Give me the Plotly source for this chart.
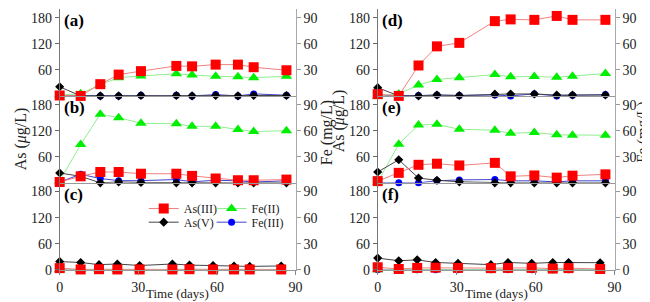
import plotly.graph_objects as go

# ---------------- data ----------------
days_ab = [0, 8, 15.5, 22.5, 31, 44.5, 50.5, 59.5, 68, 74, 86.5]
days_c = [0, 8, 15, 22, 30.5, 43, 49.5, 58.5, 66.5, 72.5, 84.5]

# panel (a)
as3_a = [1, 0, 27, 49, 57, 69, 68, 72, 72, 66, 59]
as5_a = [21, 0, 0, 0, 1, 1, 0, 1, 0, 1, 1]
fe2_a = [1, 2.5, 13, 21, 23, 25.5, 24, 22.5, 22, 21, 22.5]
fe3_a = [0.5, 0.5, 0, 0, 0.8, 0.8, 0, 1.5, 0, 2.3, 0.8]
# panel (b)
as3_b = [2, 15, 25, 25, 21, 21, 16, 10, 6, 6, 7.5]
as5_b = [22.7, 15, 0, 2, 1, 0, 0, 0, 0, 0, 0]
fe2_b = [2, 44, 79, 75, 68.5, 68, 65, 65, 61.5, 59, 60]
fe3_b = [1, 9.8, 5, 2.5, 2.5, 3.8, 1.2, 3, 2.3, 1, 2.3]
# panel (c)
as3_c = [4, 1, 1.5, 1, 1, 1, 1.5, 1, 1, 1, 1]
as5_c = [19, 17, 12, 13.5, 10, 13.5, 11, 10, 9, 8, 9]
fe2_c = [0, 0.3, 0.3, 0.3, 0.3, 0.3, 0.3, 0.3, 0.3, 0.3, 0.3]
fe3_c = [0, 0.2, 0.2, 0.2, 0.2, 0.2, 0.2, 0.2, 0.2, 0.2, 0.2]
# panel (d)
as3_d = [4, 0, 70, 114, 122, 172, 176, 175, 184, 175, 175]
as5_d = [19, 0, 0, 2, 1, 4, 4.5, 4.5, 2, 2, 2]
fe2_d = [0, 2.3, 12.5, 19, 21, 24.6, 22, 22.3, 21.5, 22.7, 25.7]
fe3_d = [0.5, 0.3, 0.4, 1.1, 0.4, 1.1, 0, 2.3, 0, 0.8, 1.5]
# panel (e)
as3_e = [4, 23, 41.5, 44, 40, 46, 15, 17, 12, 16.5, 19.5]
as5_e = [25, 53, 11, 6, 2.3, 0, 0, 0, 0, 0, 0]
fe2_e = [1, 44.5, 66.5, 67.3, 61.6, 60.5, 57, 58, 55.2, 54.8, 54.8]
fe3_e = [0, 0, 0, 2.3, 3.4, 3.8, 2.3, 2.3, 1.1, 2.3, 2.3]
# panel (f)
as3_f = [6, 2, 4.5, 5, 4.5, 4, 4.5, 4.5, 3, 4, 2]
as5_f = [27, 21, 23, 17, 15, 12, 17, 15, 17, 17, 16.5]
fe2_f = [0, 0.3, 0.3, 0.3, 0.3, 0.3, 0.3, 0.3, 0.3, 0.3, 0.3]
fe3_f = [0, 0.2, 0.2, 0.2, 0.2, 0.2, 0.2, 0.2, 0.2, 0.2, 0.2]

panel_labels = ["(a)", "(b)", "(c)", "(d)", "(e)", "(f)"]
as_ticks = [0, 60, 120, 180]
fe_ticks = [0, 30, 60, 90]
x_ticks = [0, 30, 60, 90]

panels = [
    (days_ab, as3_a, as5_a, fe2_a, fe3_a),
    (days_ab, as3_b, as5_b, fe2_b, fe3_b),
    (days_c, as3_c, as5_c, fe2_c, fe3_c),
    (days_ab, as3_d, as5_d, fe2_d, fe3_d),
    (days_ab, as3_e, as5_e, fe2_e, fe3_e),
    (days_c, as3_f, as5_f, fe2_f, fe3_f),
]

# ---------------- layout geometry ----------------
W, H = 650, 302
col_x = [(48.5, 288.5), (372, 613)]
row_y = [(1, 90.3), (90.3, 179.6), (179.6, 269)]  # pixel top/bottom

FONT = "Liberation Serif"
TICKFONT = dict(family=FONT, size=14, color="#222")
styles = {
    "as3": dict(name="As(III)", marker=dict(symbol="square", size=10, color="#ff0000"),
                line=dict(color="#f08080", width=1)),
    "fe2": dict(name="Fe(II)", marker=dict(symbol="triangle-up", size=10, color="#00ee00"),
                line=dict(color="#90ee90", width=1)),
    "as5": dict(name="As(V)", marker=dict(symbol="diamond", size=7, color="#000000"),
                line=dict(color="#444444", width=1)),
    "fe3": dict(name="Fe(III)", marker=dict(symbol="circle", size=7, color="#0000ff"),
                line=dict(color="#4444cc", width=1)),
}
# legend slot (pixel x of legend box, pixel y of row) for each series
legend_slots = {"as3": ("legend", 134, 206), "fe2": ("legend2", 203, 206),
                "as5": ("legend3", 134, 220), "fe3": ("legend4", 203, 220)}

fig = go.Figure()
layout = {}
annotations = []

for i, (days, as3, as5, fe2, fe3) in enumerate(panels):
    c, r = divmod(i, 3)
    xn = i + 1
    yfe = 2 * i + 1
    yas = 2 * i + 2
    x0, x1 = col_x[c]
    ytop, ybot = row_y[r]
    xdom = [x0 / W, x1 / W]
    ydom = [(H - ybot) / H, (H - ytop) / H]
    bottom = (r == 2)
    xk = "xaxis" if xn == 1 else f"xaxis{xn}"
    xa = "x" if xn == 1 else f"x{xn}"
    yfe_ref = "y" if yfe == 1 else f"y{yfe}"
    layout[xk] = dict(domain=xdom, range=[0, 90], anchor=yfe_ref,
                      tickvals=x_ticks, showticklabels=bottom,
                      ticks="outside" if bottom else "", ticklen=4,
                      tickcolor="#888", showline=True, linecolor="#999", linewidth=1,
                      showgrid=False, zeroline=False, tickfont=TICKFONT)
    fek = "yaxis" if yfe == 1 else f"yaxis{yfe}"
    layout[fek] = dict(domain=ydom, range=[0, 100], anchor=xa, side="right",
                       tickvals=fe_ticks if bottom else fe_ticks[1:],
                       ticks="outside", ticklen=4, tickcolor="#999",
                       showline=True, linecolor="#aaa", linewidth=1,
                       showgrid=False, zeroline=False, tickfont=TICKFONT)
    layout[f"yaxis{yas}"] = dict(range=[0, 200], anchor=xa, side="left",
                                 overlaying=yfe_ref,
                                 tickvals=as_ticks if bottom else as_ticks[1:],
                                 ticks="outside", ticklen=4, tickcolor="#666",
                                 showline=True, linecolor="#777", linewidth=1,
                                 showgrid=False, zeroline=False, tickfont=TICKFONT)
    show = (i == 2)
    series = [("fe3", fe3, yfe_ref), ("fe2", fe2, yfe_ref),
              ("as5", as5, f"y{yas}"), ("as3", as3, f"y{yas}")]
    for key, vals, ya in series:
        st = styles[key]
        fig.add_trace(go.Scatter(x=days, y=vals, mode="lines+markers", xaxis=xa, yaxis=ya,
                                 name=st["name"], marker=st["marker"], line=st["line"],
                                 cliponaxis=False, showlegend=show,
                                 legend=legend_slots[key][0]))
    annotations.append(dict(text=f"<b>{panel_labels[i]}</b>", xref=f"{xa} domain",
                            yref=f"{yfe_ref} domain",
                            x=0.01, y=0.87, xanchor="left", yanchor="middle",
                            showarrow=False, font=dict(family=FONT, size=17, color="#000")))
    if bottom:
        annotations.append(dict(text="Time (days)", xref=f"{xa} domain", yref="paper",
                                x=0.5, y=(H - 293) / H, xanchor="center", yanchor="middle",
                                showarrow=False, font=dict(family=FONT, size=13, color="#222")))

# axis titles
def ytitle(text, px, py, size=16):
    annotations.append(dict(text=text, xref="paper", yref="paper", x=px / W, y=(H - py) / H,
                            textangle=-90, showarrow=False, xanchor="center", yanchor="middle",
                            font=dict(family=FONT, size=size, color="#222")))

ytitle("As (<i>μ</i>g/L)", 10, 134)
ytitle("Fe (mg/L)", 320, 128)
ytitle("As (<i>μ</i>g/L)", 333, 116)
ytitle("Fe (mg/L)", 641, 128, 15)

for key, (name, px, py) in legend_slots.items():
    layout[name] = dict(orientation="h", x=px / W, y=(H - py) / H, xanchor="left",
                        yanchor="middle", bgcolor="rgba(0,0,0,0)",
                        font=dict(family=FONT, size=12, color="#222"), itemwidth=30)

fig.update_layout(width=W, height=H, margin=dict(l=0, r=0, t=0, b=0),
                  plot_bgcolor="white", paper_bgcolor="white",
                  annotations=annotations, **layout)
fig.write_html("out.html")
